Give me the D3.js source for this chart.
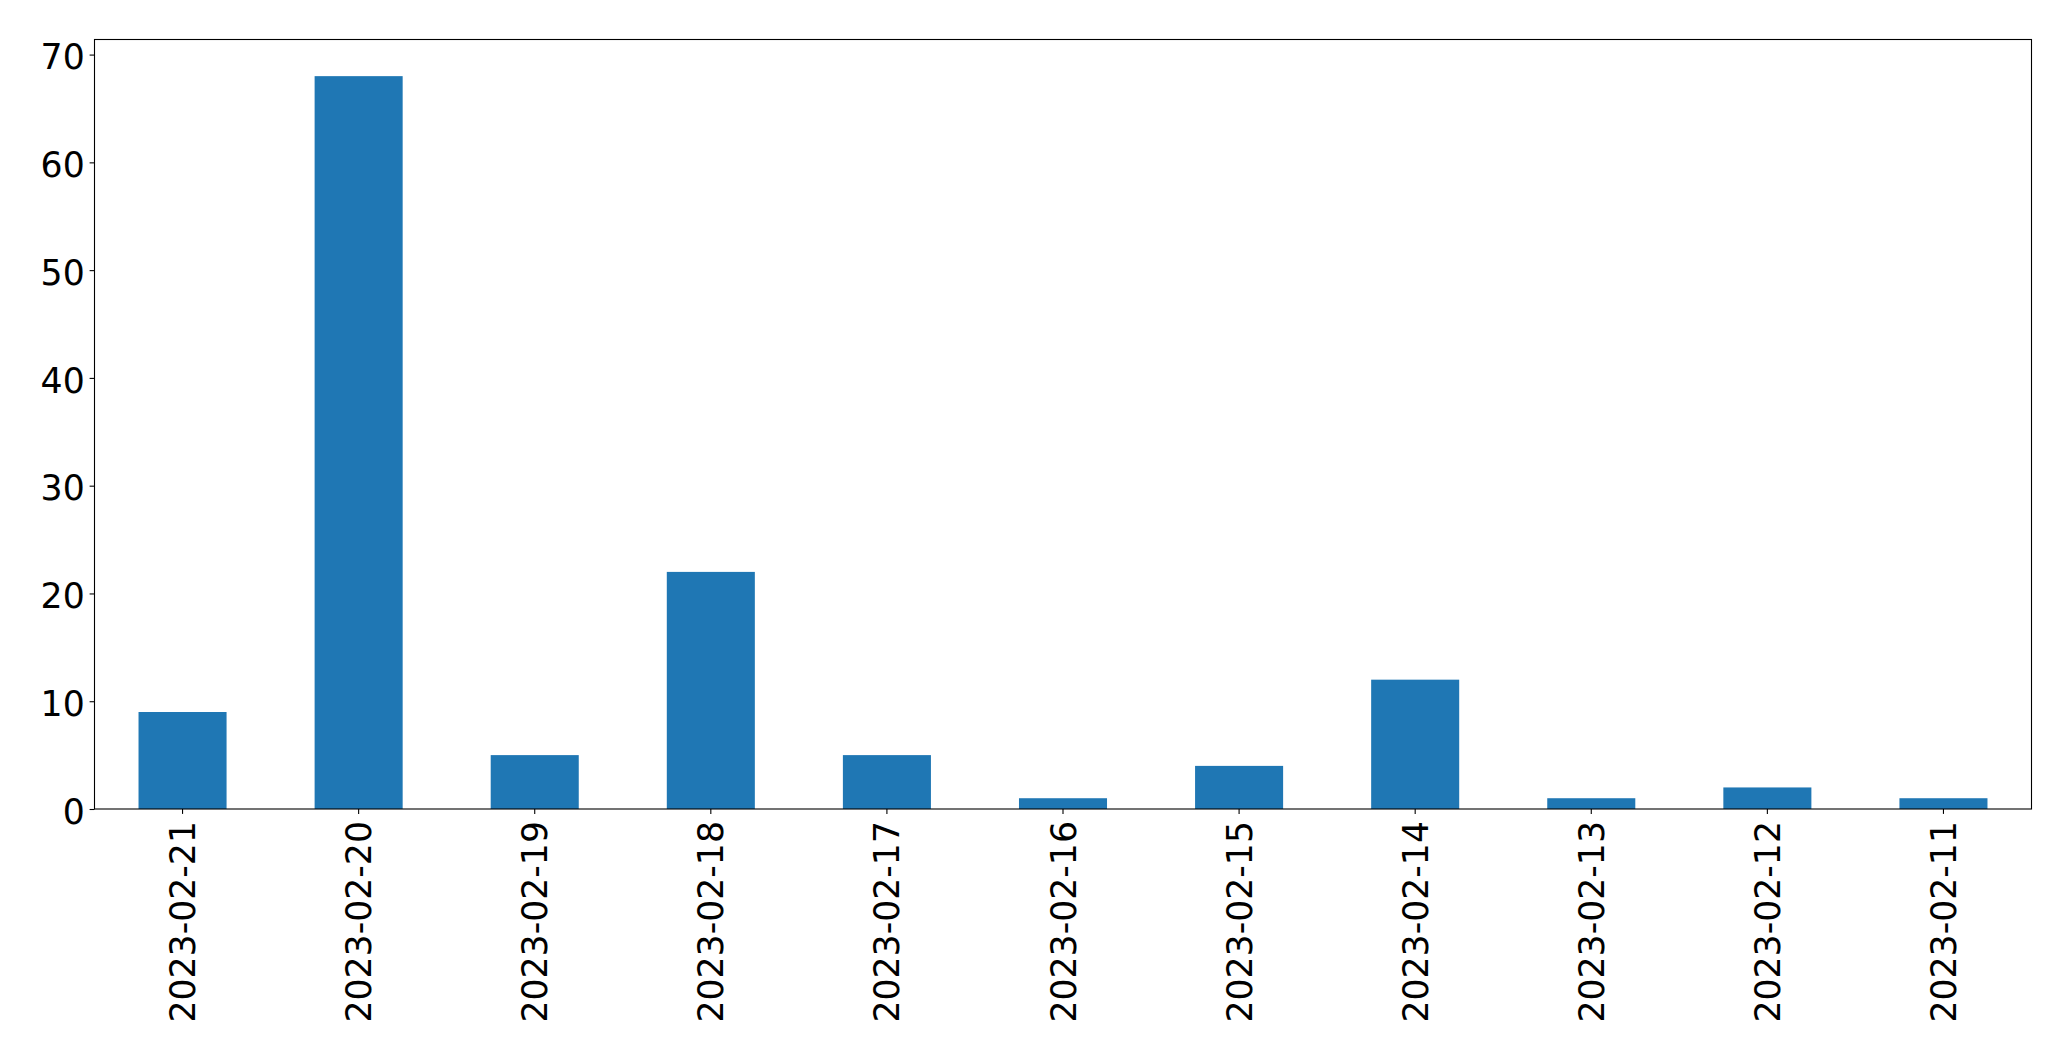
<!DOCTYPE html>
<html>
<head>
<meta charset="utf-8">
<script src="https://cdn.jsdelivr.net/npm/d3@7"></script>
<style>
html,body{margin:0;padding:0;background:#fff;}
svg{display:block;}
text{font-family:"DejaVu Sans",sans-serif;fill:#000;}
</style>
</head>
<body>
<svg id="chart" width="2071" height="1061"></svg>
<script>
const categories = ["2023-02-21","2023-02-20","2023-02-19","2023-02-18","2023-02-17","2023-02-16","2023-02-15","2023-02-14","2023-02-13","2023-02-12","2023-02-11"];
const values = [9, 68, 5, 22, 5, 1, 4, 12, 1, 2, 1];
const yTicks = [0, 10, 20, 30, 40, 50, 60, 70];

(function () {
const svg = d3.select("#chart");
const mLeft = 94.5, mRight = 2031.5, mTop = 39.5, mBottom = 809;
const fontSize = 34.7;
const tickLen = 4.9;

const x = d3.scaleBand().domain(categories).range([mLeft, mRight]).paddingInner(0.5).paddingOuter(0.25);
const y = d3.scaleLinear().domain([0, d3.max(values) * 1.05]).range([mBottom, mTop]);

svg.append("g").selectAll("rect").data(values).join("rect")
  .attr("x", (d, i) => x(categories[i]))
  .attr("width", x.bandwidth())
  .attr("y", d => y(d))
  .attr("height", d => y(0) - y(d))
  .attr("fill", "#1f77b4");

// frame
svg.append("rect").attr("x", mLeft).attr("y", mTop).attr("width", mRight - mLeft).attr("height", mBottom - mTop)
  .attr("fill", "none").attr("stroke", "#000").attr("stroke-width", 1.1);

// y axis
const yAxis = d3.axisLeft(y).tickValues(yTicks).tickSize(tickLen).tickPadding(4.9).tickFormat(d3.format("d"));
const gy = svg.append("g").attr("transform", `translate(${mLeft},0)`).call(yAxis);
gy.select(".domain").remove();
gy.selectAll(".tick line").attr("stroke", "#000").attr("stroke-width", 1.1);
gy.selectAll(".tick text").attr("font-size", fontSize).attr("font-family", "DejaVu Sans").attr("fill", "#000")
  .attr("dy", "0.41em");

// x axis
const xAxis = d3.axisBottom(x).tickSize(tickLen).tickPadding(0);
const gx = svg.append("g").attr("transform", `translate(0,${mBottom})`).call(xAxis);
gx.select(".domain").remove();
gx.selectAll(".tick line").attr("stroke", "#000").attr("stroke-width", 1.1);
gx.selectAll(".tick text")
  .attr("font-size", fontSize).attr("font-family", "DejaVu Sans").attr("fill", "#000")
  .attr("text-anchor", "end")
  .attr("dy", "0.36em")
  .attr("transform", "translate(0,12) rotate(-90)")
  .attr("y", 0).attr("x", 0);
})();
</script>
</body>
</html>
